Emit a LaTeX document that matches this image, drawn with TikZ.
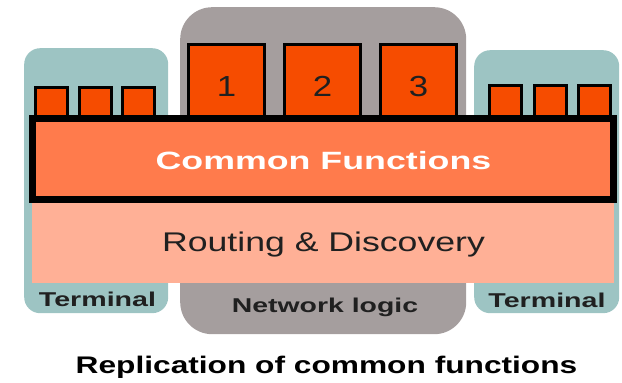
\documentclass[tikz,border=0pt]{standalone}
\usepackage{fontspec}
\setmainfont{Liberation Sans}
\usetikzlibrary{positioning}

\definecolor{termteal}{HTML}{9DC4C3}
\definecolor{netgray}{HTML}{A59E9E}
\definecolor{fnred}{HTML}{F64C00}
\definecolor{commonorange}{HTML}{FF7B4C}
\definecolor{routingpink}{HTML}{FFB096}
\definecolor{darktext}{HTML}{202020}

\tikzstyle{zone} = [rectangle, draw=none, inner sep=0, anchor=north west, rounded corners=16pt]
\tikzstyle{terminal} = [zone, fill=termteal]
\tikzstyle{network} = [zone, fill=netgray, rounded corners=32pt]
\tikzstyle{fnbox} = [rectangle, draw=black, line width=3pt, fill=fnred, inner sep=0]
\tikzstyle{smallfn} = [fnbox, minimum width=32pt, minimum height=31pt]
\tikzstyle{bigfn} = [fnbox, minimum width=76pt, minimum height=74pt, font=\fontsize{29}{32}\selectfont, text=darktext]
\tikzstyle{zonelabel} = [anchor=base, inner sep=0, font=\bfseries\fontsize{20}{24}\selectfont, text=darktext]

\newcommand{\wide}[2]{\scalebox{#1}[1]{#2}}
\newcommand{\fnnum}[1]{\raisebox{-15pt}[0pt][0pt]{\wide{1.2}{#1}}}

\begin{document}
\begin{tikzpicture}[x=1pt, y=-1pt]
\useasboundingbox (0,0) rectangle (622,383);

% background zones
\node [terminal, minimum width=144pt, minimum height=265pt] (termleft) at (24,48) {};
\node [network, minimum width=286pt, minimum height=327pt] (netlogic) at (180,7) {};
\node [terminal, minimum width=145pt, minimum height=263pt] (termright) at (474,50) {};

% per-node functions
\node [smallfn, anchor=north west] (lsq1) at (34,86) {};
\node [smallfn, right=8.5pt of lsq1] (lsq2) {};
\node [smallfn, right=8.5pt of lsq2] (lsq3) {};

\node [smallfn, anchor=north west] (rsq1) at (488,84) {};
\node [smallfn, right=9.5pt of rsq1] (rsq2) {};
\node [smallfn, right=9.5pt of rsq2] (rsq3) {};

\node [bigfn, anchor=north west] (fn1) at (187,43) {\fnnum{1}};
\node [bigfn, right=17pt of fn1] (fn2) {\fnnum{2}};
\node [bigfn, right=17pt of fn2] (fn3) {\fnnum{3}};

% shared layers
\node [rectangle, fill=routingpink, inner sep=0, anchor=north west, minimum width=582pt, minimum height=80pt] (routing) at (32,203) {};
\node [rectangle, draw=black, line width=7pt, fill=commonorange, inner sep=0, anchor=north west, minimum width=581pt, minimum height=81pt] (common) at (29,115) {};

\node [anchor=base, inner sep=0, text=white, font=\bfseries\fontsize{25}{30}\selectfont] (commontxt) at (323.5,169) {\wide{1.43}{Common Functions}};
\node [anchor=base, inner sep=0, text=darktext, font=\fontsize{27}{32}\selectfont] (routingtxt) at (323.5,251) {\wide{1.32}{Routing \& Discovery}};

\node [zonelabel] (termlefttxt) at (97.5,306) {\wide{1.43}{Terminal}};
\node [zonelabel] (netlogictxt) at (325,312) {\wide{1.42}{Network logic}};
\node [zonelabel] (termrighttxt) at (547,307) {\wide{1.43}{Terminal}};

\node [anchor=base, inner sep=0, text=black, font=\bfseries\fontsize{24}{28}\selectfont] (caption) at (326.5,373) {\wide{1.32}{Replication of common functions}};

\end{tikzpicture}
\end{document}
